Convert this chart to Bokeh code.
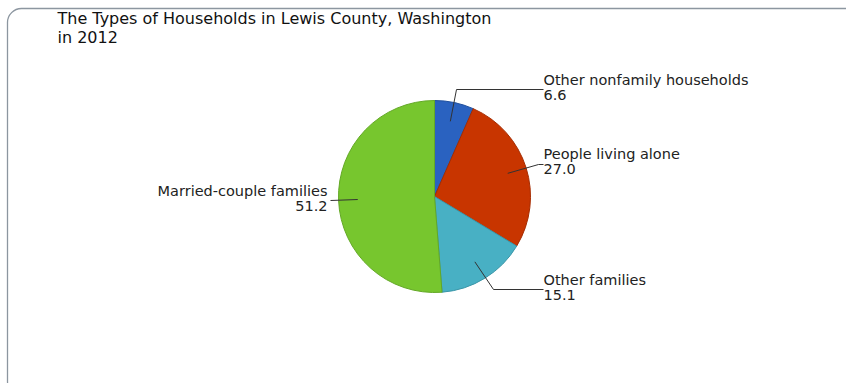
import math
from bokeh.plotting import figure
from bokeh.models import Range1d, ColumnDataSource
from bokeh.core.properties import value
from bokeh.embed import file_html
from bokeh.resources import INLINE

# ---- data ----
categories = ["Other nonfamily households", "People living alone", "Other families", "Married-couple families"]
values = [6.6, 27.0, 15.1, 51.2]
value_labels = ["6.6", "27.0", "15.1", "51.2"]
colors = ["#2a62c0", "#c83500", "#48b0c4", "#77c62e"]
edge_colors = ["#1f4f9e", "#a52c00", "#3a96a8", "#63a826"]
title_lines = ["The Types of Households in Lewis County, Washington", "in 2012"]

W, H = 846, 383
p = figure(width=W, height=H, output_backend="svg", toolbar_location=None,
           x_range=Range1d(0, W), y_range=Range1d(0, H), min_border=0)
p.axis.visible = False
p.grid.visible = False
p.outline_line_color = None
p.background_fill_color = "white"
p.border_fill_color = "white"

def Y(y):
    return H - y

# rounded frame
p.quad(left=7, right=870, top=Y(8), bottom=Y(395), fill_color=None,
       line_color="#8c96a0", line_width=1.3, border_radius=14)

# pie
cx, cy, r = 434, 196, 96
total = sum(values)
starts, ends, mids = [], [], []
acc = 0.0
for v in values:
    a0 = math.pi / 2 - 2 * math.pi * acc / total
    acc += v
    a1 = math.pi / 2 - 2 * math.pi * acc / total
    starts.append(a0)
    ends.append(a1)
    mids.append((a0 + a1) / 2)

src = ColumnDataSource(dict(start=starts, end=ends, color=colors, edge=edge_colors))
p.wedge(x=cx, y=Y(cy), radius=r, start_angle="start", end_angle="end", direction="clock",
        fill_color="color", line_color="edge", line_width=1, source=src)

# labels with leader lines
# (elbow point, text anchor x, text y top line, align)
layout = [
    ((456, 89), 543, 79, "left"),
    ((538, 164), 543, 153, "left"),
    ((493, 289), 543, 279, "left"),
    ((330, 200), 327, 190, "right"),
]
font = value("DejaVu Sans")
for i, (elbow, tx, ty, align) in enumerate(layout):
    ax = cx + 0.8 * r * math.cos(mids[i])
    ay = cy - 0.8 * r * math.sin(mids[i])
    xs = [ax, elbow[0]]
    ys = [Y(ay), Y(elbow[1])]
    if align == "left":
        xs.append(tx)
        ys.append(Y(elbow[1]))
    p.line(xs, ys, line_color="#333333", line_width=1)
    p.text(x=[tx], y=[Y(ty)], text=[categories[i]], text_font=font, text_font_size="14.5px",
           text_color="#222222", text_align=align, text_baseline="middle")
    p.text(x=[tx], y=[Y(ty + 15)], text=[value_labels[i]], text_font=font, text_font_size="14.5px",
           text_color="#222222", text_align=align, text_baseline="middle")

# title
for j, t in enumerate(title_lines):
    p.text(x=[57], y=[Y(18 + 19 * j)], text=[t], text_font=font,
           text_font_size="16px", text_color="#111111", text_align="left", text_baseline="middle")

open("out.html", "w").write(file_html(p, INLINE))
